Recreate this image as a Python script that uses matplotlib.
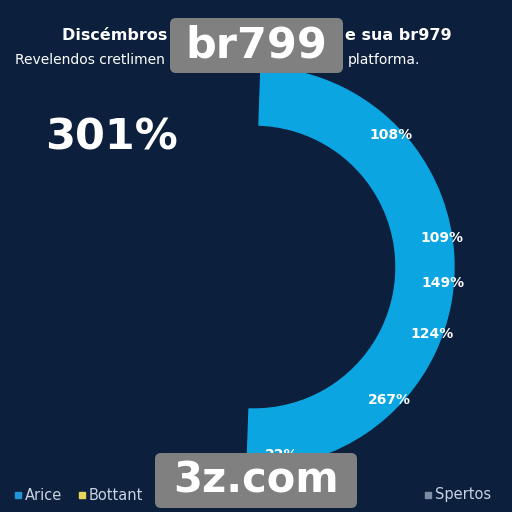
import numpy as np
import matplotlib
matplotlib.use('Agg')
import matplotlib.pyplot as plt
from matplotlib.patches import FancyBboxPatch

# data
segment_values = [108, 109, 149, 124, 267, 22]
segment_labels = ['108%', '109%', '149%', '124%', '267%', '22%']
headline = '301%'
legend_names = ['Arice', 'Bottant', 'Spertos']
legend_colors = ['#1e96d8', '#e6d65a', '#7d8ca5']

# layout (pixel space, y up)
BG = '#0c1f3d'
RING = '#0ba5e2'
CX, CY = 254, 245
R_OUT, R_IN = 200, 142
label_angles = [44, 8.7, -4.8, -20.6, -44.4, -81.5]
label_radius = 190
legend_x = [18, 82, 428]

fig = plt.figure(figsize=(5.12, 5.12), dpi=100)
fig.patch.set_facecolor(BG)
ax = fig.add_axes([0, 0, 1, 1])
ax.set_facecolor(BG)

# half ring: visible segments + transparent filler for the other half
vals = segment_values + [sum(segment_values)]
colors = [RING] * len(segment_values) + ['none']
wedges, _ = ax.pie(vals, colors=colors, startangle=88, counterclock=False,
                   center=(CX, CY), radius=R_OUT, frame=True,
                   wedgeprops=dict(width=R_OUT - R_IN))
for w in wedges[:-1]:
    w.set_edgecolor(RING)
    w.set_linewidth(1.0)
wedges[-1].set_linewidth(0)

for lab, ang in zip(segment_labels, label_angles):
    a = np.deg2rad(ang)
    ax.text(CX + label_radius * np.cos(a), CY + label_radius * np.sin(a),
            lab, color='white', fontsize=10, fontweight='bold',
            ha='center', va='center')

ax.set_xlim(0, 512)
ax.set_ylim(0, 512)
ax.set_aspect('auto')
ax.axis('off')

# titles (middle part hidden by the watermark box)
ax.text(62, 477, 'Discémbros c', color='white', fontsize=11.5,
        fontweight='bold', ha='left', va='center')
ax.text(345, 477, 'e sua br979', color='white', fontsize=11.5,
        fontweight='bold', ha='left', va='center')
ax.text(15, 452, 'Revelendos cretlimen', color='white', fontsize=10,
        ha='left', va='center')
ax.text(348, 452, 'platforma.', color='white', fontsize=10,
        ha='left', va='center')
ax.text(45, 375, headline, color='white', fontsize=31, fontweight='bold',
        ha='left', va='center')

# legend
for x, name, c in zip(legend_x, legend_names, legend_colors):
    ax.plot(x, 17, marker='s', ms=4.5, color=c, linestyle='none')
    ax.text(x + 7, 17, name, color='#c8d2e0', fontsize=10.5,
            ha='left', va='center')

# watermark boxes
for (x0, y0, w, h, txt, fs) in [(170, 439, 173, 55, 'br799', 31),
                                (155, 4, 202, 55, '3z.com', 30)]:
    box = FancyBboxPatch((x0 + 6, y0 + 6), w - 12, h - 12,
                         boxstyle='round,pad=6', facecolor='#808080',
                         edgecolor='none', zorder=10)
    ax.add_patch(box)
    ax.text(x0 + w / 2, y0 + h / 2, txt, color='white', fontsize=fs,
            fontweight='bold', ha='center', va='center', zorder=11)

fig.savefig('out.png', dpi=100, facecolor=BG)
